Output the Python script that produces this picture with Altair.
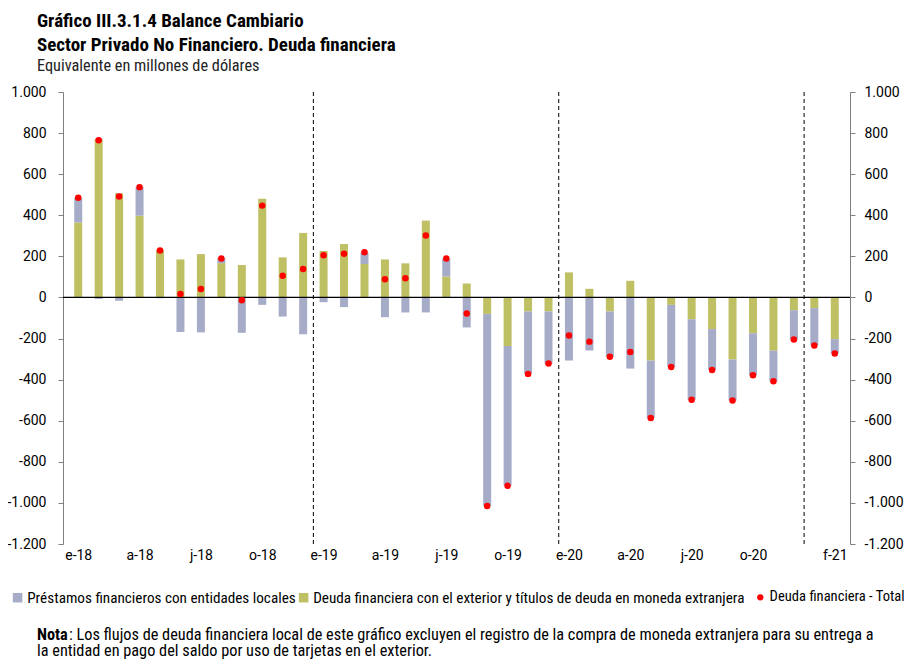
import altair as alt
import pandas as pd

# ---- data (millones de USD) ----
meses = ["e-18","f-18","m-18","a-18","m-18","j-18","j-18","a-18","s-18","o-18","n-18","d-18",
         "e-19","f-19","m-19","a-19","m-19","j-19","j-19","a-19","s-19","o-19","n-19","d-19",
         "e-20","f-20","m-20","a-20","m-20","j-20","j-20","a-20","s-20","o-20","n-20","d-20",
         "e-21","f-21"]
exterior = [365, 772, 507, 398, 232, 185, 211, 167, 158, 480, 195, 314,
            226, 260, 163, 185, 166, 374, 102, 68, -80, -236, -68, -68,
            122, 42, -68, 81, -307, -36, -106, -154, -302, -174, -259, -62,
            -52, -203]
locales = [120, -7, -16, 139, -4, -168, -170, 25, -172, -36, -93, -179,
           -23, -47, 55, -96, -73, -73, 88, -146, -935, -681, -304, -254,
           -307, -258, -221, -346, -280, -302, -392, -199, -200, -205, -149, -143,
           -182, -70]
total = [485, 765, 491, 537, 228, 17, 41, 190, -14, 447, 106, 138,
         205, 213, 220, 89, 94, 302, 190, -78, -1015, -917, -372, -322,
         -185, -215, -289, -265, -587, -338, -498, -353, -502, -379, -408, -205,
         -234, -273]
marcas_x = [0, 3, 6, 9, 12, 15, 18, 21, 24, 27, 30, 33, 37]
cortes_anio = [11.5, 23.5, 35.5]
ticks_y = [1000, 800, 600, 400, 200, 0, -200, -400, -600, -800, -1000, -1200]

S_LOC = "Préstamos financieros con entidades locales"
S_EXT = "Deuda financiera con el exterior y títulos de deuda en moneda extranjera"
S_TOT = "Deuda financiera - Total"

rows = []
for i in range(len(meses)):
    rows.append({"idx": i, "serie": S_EXT, "valor": exterior[i], "ord": 0})
    rows.append({"idx": i, "serie": S_LOC, "valor": locales[i], "ord": 1})
df_bars = pd.DataFrame(rows)
df_tot = pd.DataFrame({"idx": list(range(len(meses))), "total": total, "serie": S_TOT})
df_cortes = pd.DataFrame({"x": cortes_anio})
df_zero = pd.DataFrame({"y": [0]})

FONT = "Roboto"
NARROW = "Roboto Condensed, Liberation Sans Narrow, Roboto"

lab_arr = "[" + ",".join("'%s'" % m for m in meses) + "]"
ylab = "(datum.value < 0 ? '-' : '') + replace(format(abs(datum.value), ',d'), ',', '.')"

xscale = alt.Scale(domain=[-0.5, 37.5], nice=False, zero=False)
ydom = [-1200, 1000]

color_scale = alt.Scale(domain=[S_LOC, S_EXT], range=["#A6ABC8", "#BFBF63"])
fill_scale = alt.Scale(domain=[S_TOT], range=["#FF0000"])

legend_bars = alt.Legend(
    title=None, orient="none", direction="horizontal", legendX=-53, legendY=498,
    labelFont=NARROW, labelFontSize=15.2, labelColor="#000", labelLimit=600,
    symbolType="square", symbolSize=90, symbolStrokeWidth=0, columnPadding=0,
    labelOffset=2,
)
legend_tot = alt.Legend(
    title=None, orient="none", direction="horizontal", legendX=690, legendY=498,
    labelFont=NARROW, labelFontSize=14.6, labelColor="#000", labelLimit=600,
    symbolType="circle", symbolSize=40, symbolStrokeWidth=0, labelOffset=2,
)

left_axis = alt.Axis(title=None, values=ticks_y, labelExpr=ylab, grid=False,
                     domainColor="#808080", tickColor="#808080", tickSize=5,
                     labelFont=FONT, labelFontSize=14, labelColor="#000", labelPadding=12)
right_axis = alt.Axis(title=None, orient="right", values=ticks_y, labelExpr=ylab, grid=False,
                      domainColor="#808080", tickColor="#808080", tickSize=5,
                      labelFont=FONT, labelFontSize=14, labelColor="#000", labelPadding=9)
x_axis = alt.Axis(title=None, values=marcas_x, labelExpr=lab_arr + "[datum.value]",
                  grid=False, domain=False, ticks=False, labelFont=FONT, labelFontSize=14,
                  labelColor="#000", labelPadding=4)

bars = alt.Chart(df_bars).mark_bar(size=8).encode(
    x=alt.X("idx:Q", scale=xscale, axis=x_axis),
    y=alt.Y("valor:Q", stack="zero", scale=alt.Scale(domain=ydom, nice=False), axis=left_axis),
    color=alt.Color("serie:N", scale=color_scale, legend=legend_bars),
    order=alt.Order("ord:Q"),
)
zero = alt.Chart(df_zero).mark_rule(color="#000", strokeWidth=1.3).encode(y="y:Q")
cortes = alt.Chart(df_cortes).mark_rule(color="#000", strokeWidth=1, strokeDash=[4, 3]).encode(
    x=alt.X("x:Q", scale=xscale))
points = alt.Chart(df_tot).mark_circle(size=42, opacity=1).encode(
    x=alt.X("idx:Q", scale=xscale),
    y=alt.Y("total:Q"),
    fill=alt.Fill("serie:N", scale=fill_scale, legend=legend_tot),
)

# Nota
NOTE_SIZE = 16.3
df_nota_b = pd.DataFrame({"t": ["Nota"]})
df_nota = pd.DataFrame({"t": [": Los flujos de deuda financiera local de este gráfico excluyen el registro de la compra de moneda extranjera para su entrega a"]})
df_nota2 = pd.DataFrame({"t": ["la entidad en pago del saldo por uso de tarjetas en el exterior."]})
nota_b = alt.Chart(df_nota_b).mark_text(font=NARROW, fontSize=NOTE_SIZE, fontWeight="bold", align="left",
                                        baseline="alphabetic", color="#000").encode(
    text="t:N", x=alt.value(-26), y=alt.value(548))
nota1 = alt.Chart(df_nota).mark_text(font=NARROW, fontSize=NOTE_SIZE, align="left",
                                     baseline="alphabetic", color="#000").encode(
    text="t:N", x=alt.value(6), y=alt.value(548))
nota2 = alt.Chart(df_nota2).mark_text(font=NARROW, fontSize=NOTE_SIZE, align="left",
                                      baseline="alphabetic", color="#000").encode(
    text="t:N", x=alt.value(-26), y=alt.value(564))

inner = alt.layer(bars, zero, cortes, points, nota_b, nota1, nota2)

right = alt.Chart(df_tot).mark_point(opacity=0).encode(
    y=alt.Y("total:Q", scale=alt.Scale(domain=ydom, nice=False), axis=right_axis))

chart = alt.layer(inner, right).resolve_scale(y="independent").properties(
    width=787, height=452,
    autosize=alt.AutoSizeParams(type="none"),
    padding={"left": 55, "top": 84, "right": 54, "bottom": 116},
    title=alt.TitleParams(
        text=["Gráfico III.3.1.4 Balance Cambiario", "Sector Privado No Financiero. Deuda financiera"],
        subtitle="Equivalente en millones de dólares",
        anchor="start", frame="group", dx=-26, offset=11,
        font=NARROW, fontSize=19, fontWeight="bold", color="#000", lineHeight=24,
        subtitleFont=NARROW, subtitleFontSize=16.3, subtitleColor="#222", subtitlePadding=3,
    ),
).configure_view(stroke=None)

chart.save("out.html", embed_options={"renderer": "svg", "actions": False})
